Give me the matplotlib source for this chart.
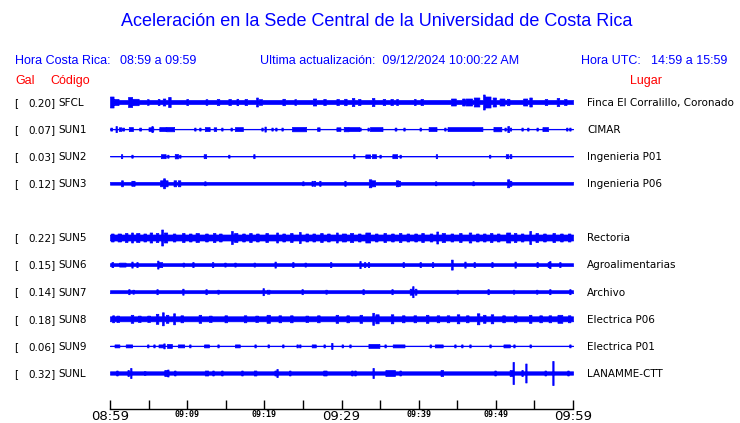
import numpy as np
import matplotlib
matplotlib.use("Agg")
import matplotlib.pyplot as plt
from matplotlib.transforms import blended_transform_factory

# ---------------- data ----------------
title = "Aceleración en la Sede Central de la Universidad de Costa Rica"
hora_cr = "08:59 a 09:59"
hora_utc = "14:59 a 15:59"
ultima = "09/12/2024 10:00:22 AM"

codes = ["SFCL", "SUN1", "SUN2", "SUN3", "SUN5", "SUN6", "SUN7", "SUN8", "SUN9", "SUNL"]
rows = [0, 1, 2, 3, 5, 6, 7, 8, 9, 10]
gal = [0.20, 0.07, 0.03, 0.12, 0.22, 0.15, 0.14, 0.18, 0.06, 0.32]
places = ["Finca El Corralillo, Coronado", "CIMAR", "Ingenieria P01", "Ingenieria P06",
          "Rectoria", "Agroalimentarias", "Archivo", "Electrica P06", "Electrica P01",
          "LANAMME-CTT"]

# background (noise) half-amplitude of each trace, relative units
base_amp = [2.0, 0.3, 0.3, 1.4, 3.0, 1.4, 1.5, 2.5, 0.3, 1.7]

# bursts: (minute after 08:59, duration in minutes, half-amplitude)
events_sfcl = [(0.2, 0.5, 5.5), (0.8, 0.6, 3), (2.6, 0.5, 5), (3.3, 0.8, 3.2), (4.9, 0.2, 2.8),
               (6.3, 0.2, 3), (7.0, 0.3, 3.5), (7.7, 0.3, 5), (10.0, 0.2, 3), (12.5, 0.2, 2.8),
               (14.0, 0.3, 3), (15.5, 0.3, 3), (16.5, 0.2, 3.2), (17.6, 0.3, 3), (19.05, 0.2, 4.5),
               (19.5, 0.4, 2.8), (22.5, 0.3, 3.2), (24.0, 0.2, 2.8), (26.5, 0.4, 3.5), (27.8, 0.3, 3),
               (29.5, 0.3, 3), (30.5, 0.3, 3.2), (31.5, 0.3, 4), (32.3, 0.3, 3), (34.1, 0.3, 4),
               (35.5, 0.3, 3), (36.5, 0.3, 3), (37.2, 0.2, 3), (39.5, 0.2, 3), (40.4, 0.3, 3),
               (44.5, 0.6, 3.5), (45.8, 0.3, 3.5), (46.5, 0.8, 3.5), (47.5, 0.7, 4.5), (48.45, 0.2, 7.5),
               (48.9, 0.8, 5.5), (49.8, 0.4, 4.5), (50.8, 0.6, 3.5), (51.6, 0.3, 3.2), (53.8, 0.5, 3.5),
               (54.5, 0.3, 4.5), (56.5, 0.3, 3), (58.05, 0.3, 4), (59.0, 0.3, 3)]
events_sun1 = [(0.15, 0.2, 1.5), (0.8, 0.15, 3), (1.3, 0.3, 1.8), (1.7, 0.2, 1.5), (2.7, 0.5, 2),
               (3.9, 0.2, 1.5), (5.3, 0.6, 1.8), (5.45, 0.15, 3), (6.8, 0.8, 2), (7.8, 1.0, 2.2),
               (11.0, 0.15, 1.5), (11.65, 0.15, 1.5), (12.6, 0.6, 2), (13.6, 0.3, 1.8), (14.5, 0.15, 1.5),
               (15.7, 0.15, 1.5), (16.7, 1.0, 2), (19.7, 0.15, 1.5), (20.1, 0.15, 2.5), (21.0, 0.15, 1.5),
               (21.5, 0.15, 1.5), (22.3, 0.15, 1.5), (24.5, 1.8, 2.2), (27.0, 0.3, 1.8), (29.6, 0.5, 1.8),
               (30.6, 0.6, 2.2), (31.6, 1.4, 2), (32.4, 0.15, 1.5), (33.45, 0.15, 1.5), (34.5, 1.6, 2),
               (37.0, 0.2, 1.5), (38.1, 0.15, 1.5), (40.2, 0.15, 1.5), (41.8, 1.0, 2), (43.4, 0.15, 1.5),
               (46.0, 4.5, 2), (50.2, 1.0, 2.2), (51.2, 0.15, 1.5), (51.6, 0.2, 3), (51.9, 0.15, 1.5),
               (53.4, 0.15, 1.5), (54.15, 0.15, 1.5), (55.35, 0.15, 1.5), (56.4, 0.7, 2),
               (59.2, 0.15, 1.5), (59.6, 0.15, 1.5)]
events_sun2 = [(1.5, 0.15, 2), (2.85, 0.15, 1.5), (6.9, 0.6, 2), (7.5, 0.15, 1.5), (8.6, 0.4, 2.2),
               (9.05, 0.15, 1.5), (12.3, 0.3, 2), (15.4, 0.15, 1.5), (18.65, 0.15, 2), (31.6, 0.15, 2),
               (33.4, 0.6, 1.8), (34.2, 0.5, 2), (35.0, 0.15, 1.5), (36.9, 0.6, 2), (37.6, 0.15, 1.5),
               (42.3, 0.15, 2), (49.2, 0.15, 1.5), (51.45, 0.3, 2), (51.9, 0.2, 2)]
events_sun3 = [(1.55, 0.2, 3), (2.85, 0.15, 2.5), (3.1, 0.15, 2.5), (6.7, 0.4, 3), (7.0, 0.2, 5),
               (7.3, 0.3, 3), (8.4, 0.3, 3), (8.95, 0.3, 3), (12.3, 0.15, 2), (25.0, 0.15, 2),
               (26.2, 0.15, 2.5), (26.5, 0.15, 2.5), (27.2, 0.15, 2.5), (30.45, 0.15, 2.5), (33.7, 0.3, 4),
               (34.1, 0.5, 3), (37.2, 0.3, 3), (37.5, 0.15, 2.5), (42.2, 0.15, 2), (47.05, 0.15, 2),
               (51.6, 0.25, 4), (51.9, 0.2, 2.5)]
events_sun5 = [(0.3, 0.3, 4), (1.2, 0.4, 4), (2.1, 0.3, 4.5), (2.85, 0.2, 5), (3.6, 0.4, 4.5),
               (4.5, 0.3, 4), (5.3, 0.3, 5), (6.1, 0.3, 4.5), (6.75, 0.2, 8), (7.2, 0.4, 5),
               (8.3, 0.3, 4), (9.5, 0.3, 4.5), (10.4, 0.3, 4), (11.3, 0.4, 4.5), (12.5, 0.3, 4),
               (13.5, 0.3, 4.5), (14.3, 0.3, 4), (15.8, 0.2, 6.5), (16.3, 0.4, 4.5), (17.3, 0.3, 4),
               (18.2, 0.3, 4.5), (19.1, 0.3, 4), (20.3, 0.3, 4.5), (21.65, 0.2, 5), (22.5, 0.3, 4),
               (23.5, 0.3, 4.5), (24.6, 0.2, 5.5), (25.5, 0.3, 4), (26.4, 0.3, 4), (27.4, 0.3, 4.5),
               (28.3, 0.3, 4), (29.4, 0.2, 5), (30.3, 0.5, 4), (31.3, 0.4, 4.5), (32.3, 0.3, 4),
               (33.4, 0.6, 5), (34.5, 0.3, 4), (35.6, 0.3, 4.5), (36.6, 0.3, 4), (37.6, 0.3, 4.5),
               (38.6, 0.3, 4), (39.6, 0.3, 4), (40.5, 0.3, 4.5), (41.6, 0.3, 4), (42.4, 0.2, 6),
               (43.2, 0.4, 4.5), (44.3, 0.3, 4), (45.4, 0.3, 4.5), (46.65, 0.3, 5), (47.6, 0.3, 4),
               (48.5, 0.3, 4), (49.4, 0.3, 4.5), (50.3, 0.3, 4), (51.6, 0.5, 5), (52.5, 0.3, 4.5),
               (53.4, 0.3, 4), (54.45, 0.2, 6.5), (55.3, 0.3, 4.5), (56.3, 0.3, 4), (57.5, 0.3, 4.5),
               (58.5, 0.3, 4), (59.5, 0.3, 4)]
events_sun6 = [(0.3, 0.2, 2.5), (1.6, 0.8, 2), (2.85, 0.15, 3), (3.5, 0.15, 2.5), (6.2, 0.15, 4),
               (6.5, 0.5, 2.5), (9.5, 0.15, 2), (10.75, 0.15, 2.5), (13.3, 0.15, 2.5), (14.9, 0.15, 2),
               (16.2, 0.15, 2), (18.7, 0.15, 2), (21.4, 0.15, 3), (23.7, 0.15, 2.5), (25.3, 0.15, 2),
               (28.6, 0.15, 2.5), (32.4, 0.15, 3.5), (33.0, 0.15, 2.5), (33.5, 0.15, 2.5), (38.0, 0.15, 2.5),
               (40.2, 0.15, 2.5), (41.8, 0.15, 2.5), (44.3, 0.2, 5), (46.0, 0.15, 3), (47.2, 0.15, 2.5),
               (49.5, 0.15, 2.5), (52.5, 0.15, 3), (55.35, 0.15, 2.5), (56.8, 0.15, 2.5), (57.0, 0.15, 3.5),
               (58.3, 0.15, 2.5)]
events_sun7 = [(2.45, 0.15, 2.5), (3.0, 0.15, 2), (6.1, 0.15, 2.5), (9.45, 0.15, 3), (12.45, 0.15, 2.5),
               (14.0, 0.15, 2), (19.85, 0.15, 3.5), (20.5, 0.3, 2), (24.9, 0.15, 2.5), (28.0, 0.15, 2),
               (32.8, 0.15, 2.5), (36.55, 0.15, 2.5), (39.0, 0.3, 3), (39.25, 0.15, 5.5), (39.6, 0.2, 3),
               (45.0, 0.15, 2), (49.0, 0.15, 2.5), (52.3, 0.15, 2), (55.3, 0.15, 2), (57.0, 0.15, 2.5),
               (59.6, 0.15, 2.5)]
events_sun8 = [(0.4, 0.2, 3.5), (1.0, 0.3, 3.2), (2.85, 0.3, 4), (3.8, 0.3, 3.2), (5.0, 0.3, 3.2),
               (6.1, 0.3, 5), (6.85, 0.2, 6.5), (7.4, 0.3, 4), (8.3, 0.2, 5.5), (9.3, 0.3, 3.5),
               (11.65, 0.3, 4), (13.0, 0.3, 3.2), (15.0, 0.3, 3.5), (17.5, 0.3, 3.5), (19.0, 0.3, 3.2),
               (20.5, 0.4, 4), (22.0, 0.3, 3.5), (23.5, 0.3, 3.5), (25.5, 0.3, 3.2), (27.0, 0.3, 3.5),
               (29.4, 0.3, 4), (30.8, 0.3, 3.5), (32.5, 0.3, 4), (34.1, 0.2, 6), (34.6, 0.4, 4.5),
               (36.55, 0.3, 4.5), (38.0, 0.3, 3.5), (39.5, 0.3, 3.5), (41.1, 0.3, 4), (42.5, 0.3, 3.5),
               (43.8, 0.3, 3.5), (45.1, 0.3, 4.5), (46.3, 0.3, 3.5), (47.7, 0.3, 5.5), (48.5, 0.3, 4),
               (49.5, 0.3, 4.5), (51.0, 0.3, 3.5), (52.5, 0.3, 3.5), (54.45, 0.3, 4), (55.8, 0.3, 3.5),
               (57.0, 0.3, 3.5), (58.3, 0.6, 4), (59.5, 0.3, 3.5)]
events_sun9 = [(0.9, 0.6, 1.5), (2.45, 0.8, 1.5), (4.9, 0.15, 1.5), (5.7, 0.15, 1.5), (6.6, 0.6, 1.5),
               (7.0, 0.15, 2.5), (7.7, 0.6, 2), (9.2, 0.8, 1.5), (10.35, 0.15, 1.5), (12.5, 0.6, 1.5),
               (14.0, 0.15, 1.5), (16.5, 0.6, 1.5), (18.8, 0.15, 1.5), (20.5, 0.15, 1.5), (22.4, 0.15, 1.5),
               (24.25, 0.15, 1.5), (24.6, 0.15, 1.5), (26.4, 0.5, 1.5), (27.75, 0.15, 1.5), (28.75, 0.15, 3),
               (30.1, 0.15, 1.5), (31.1, 0.15, 1.5), (34.2, 1.4, 2), (35.65, 0.15, 1.5), (37.4, 1.5, 1.5),
               (41.5, 0.15, 1.5), (42.6, 1.0, 1.5), (44.7, 0.15, 1.5), (45.6, 0.15, 1.5), (46.65, 0.15, 1.5),
               (49.25, 0.15, 1.5), (51.4, 0.8, 1.5), (52.35, 0.15, 1.5), (54.45, 0.15, 1.5), (59.6, 0.15, 1.5)]
events_sunl = [(0.9, 0.15, 2.5), (2.35, 0.15, 3), (2.7, 0.15, 5), (4.5, 0.15, 2), (7.2, 0.3, 3),
               (7.5, 0.15, 3.5), (8.4, 0.15, 2.5), (12.5, 0.4, 2.5), (13.35, 0.15, 2.5), (14.5, 0.15, 2.5),
               (17.1, 0.15, 2.5), (18.8, 0.3, 2.5), (21.4, 0.15, 2.5), (21.65, 0.15, 4), (23.3, 0.15, 2.5),
               (27.85, 0.4, 2.5), (31.35, 0.15, 2.5), (31.75, 0.15, 2.5), (34.1, 0.15, 5), (36.3, 1.2, 3),
               (37.6, 0.15, 2.5), (43.0, 0.3, 3), (49.9, 0.15, 2.5), (52.0, 0.4, 3), (52.25, 0.15, 11),
               (53.4, 0.15, 3), (53.9, 0.15, 9.5), (56.4, 0.15, 2.5), (57.4, 0.15, 12), (59.35, 0.15, 2.5)]

events = [events_sfcl, events_sun1, events_sun2, events_sun3, events_sun5,
          events_sun6, events_sun7, events_sun8, events_sun9, events_sunl]

tick_minutes = list(range(0, 61, 5))
label_minutes = [0, 10, 20, 30, 40, 50, 60]
label_text = ["08:59", "09:09", "09:19", "09:29", "09:39", "09:49", "09:59"]
big_labels = ["08:59", "09:29", "09:59"]

# ---------------- drawing ----------------
W, H = 740, 423
BLUE = "#0000ff"
RED = "#ff0000"
fig = plt.figure(figsize=(W / 100, H / 100), dpi=100)
fig.patch.set_facecolor("white")

ax_left, ax_right = 110, 573
ax_top, ax_bot = 88, 409
ax = fig.add_axes([ax_left / W, 1 - ax_bot / H, (ax_right - ax_left) / W, (ax_bot - ax_top) / H])

row_px = 27.1
row0_px = 102
ax.set_xlim(0, 60)
ax.set_ylim((ax_bot - row0_px) / row_px, (ax_top - row0_px) / row_px)

t = np.linspace(0, 60, 2401)
for r, b, ev in zip(rows, base_amp, events):
    env = np.full_like(t, b)
    for tc, dur, amp in ev:
        m = np.abs(t - tc) <= dur / 2 + 0.013
        env[m] = np.maximum(env[m], amp)
    ax.fill_between(t, r - env / row_px, r + env / row_px, step="mid",
                    facecolor=BLUE, edgecolor=BLUE, linewidth=0.5)

for s in ["top", "left", "right"]:
    ax.spines[s].set_visible(False)
ax.spines["bottom"].set_color("black")
ax.spines["bottom"].set_linewidth(1.0)
ax.set_yticks([])
ax.set_xticks(tick_minutes)
ax.tick_params(axis="x", direction="in", length=6.5, width=1.0, color="black", pad=1)
ax.set_xticklabels([label_text[label_minutes.index(m)] if m in label_minutes else "" for m in tick_minutes])
for lab in ax.get_xticklabels():
    if lab.get_text() in big_labels:
        lab.set_fontsize(9.5)
        lab.set_family("DejaVu Sans")
    else:
        lab.set_fontsize(6)
        lab.set_family("DejaVu Sans Mono")
        lab.set_fontweight("bold")

# title and header
fig.text(377 / W, 1 - 22 / H, title, ha="center", va="center", color=BLUE,
         fontsize=13.0, family="Liberation Sans")
hdr = dict(va="center", color=BLUE, fontsize=9, family="Liberation Sans")
fig.text(15 / W, 1 - 60.5 / H, "Hora Costa Rica:", ha="left", **hdr)
fig.text(120 / W, 1 - 60.5 / H, hora_cr, ha="left", **hdr)
fig.text(260 / W, 1 - 60.5 / H, "Ultima actualización:  " + ultima, ha="left", **hdr)
fig.text(581 / W, 1 - 60.5 / H, "Hora UTC:", ha="left", **hdr)
fig.text(651 / W, 1 - 60.5 / H, hora_utc, ha="left", **hdr)
red = dict(va="center", color=RED, fontsize=9, family="Liberation Sans")
fig.text(15 / W, 1 - 81 / H, "Gal", ha="left", **red)
fig.text(50 / W, 1 - 81 / H, "Código", ha="left", **red)
fig.text(630 / W, 1 - 81 / H, "Lugar", ha="left", **red)

# station labels
tr = blended_transform_factory(fig.transFigure, ax.transData)
lab = dict(va="center", color="black", fontsize=7.5, family="DejaVu Sans", transform=tr)
for r, g, c, p in zip(rows, gal, codes, places):
    fig.text(14 / W, r + 0.03, "[", ha="left", **lab)
    fig.text(55.5 / W, r + 0.03, f"{g:.2f}]", ha="right", **lab)
    fig.text(58 / W, r + 0.03, c, ha="left", **lab)
    fig.text(587 / W, r + 0.03, p, ha="left", **lab)

fig.savefig("out.png", dpi=100, facecolor="white")
